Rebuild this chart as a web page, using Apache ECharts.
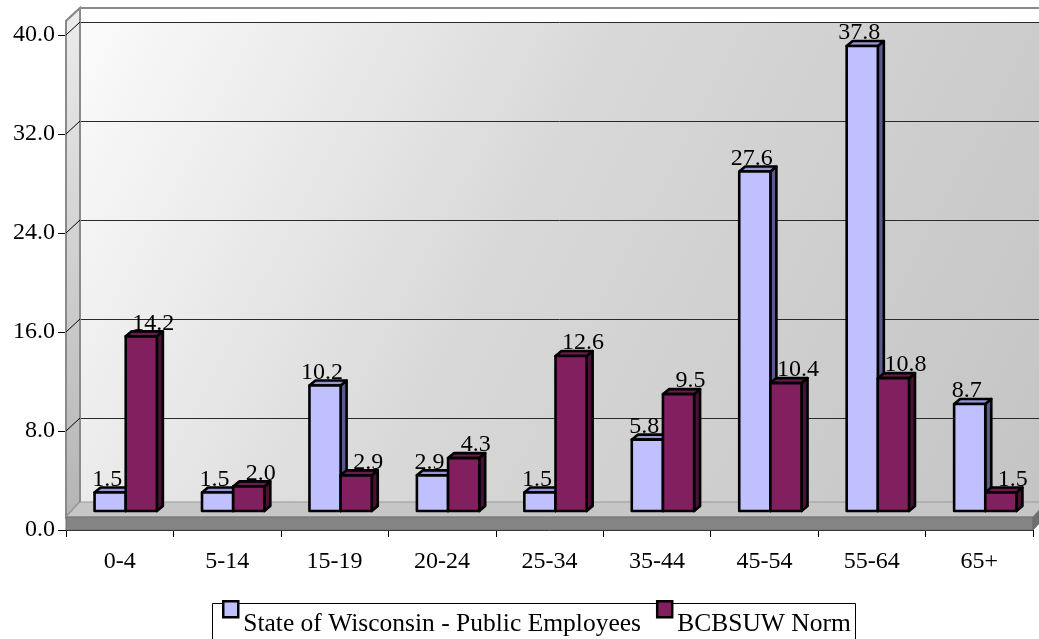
<!DOCTYPE html>
<html>
<head>
<meta charset="utf-8">
<script src="https://cdn.jsdelivr.net/npm/echarts@6/dist/echarts.min.js"></script>
<style>
html,body{margin:0;padding:0;background:#fff;}
#chart{width:1039px;height:639px;}
</style>
</head>
<body>
<div id="chart"></div>
<script>
// ---- data ----
const categories = ['0-4', '5-14', '15-19', '20-24', '25-34', '35-44', '45-54', '55-64', '65+'];
const stateValues = [1.5, 1.5, 10.2, 2.9, 1.5, 5.8, 27.6, 37.8, 8.7];
const normValues = [14.2, 2.0, 2.9, 4.3, 12.6, 9.5, 10.4, 10.8, 1.5];
const seriesNames = ['State of Wisconsin - Public Employees', 'BCBSUW Norm'];
const yTicks = [0, 8, 16, 24, 32, 40];

// ---- styles ----
const FONT = 'Liberation Serif';
const FS = 24;
const LFS = 25.5;
const faces = [
  { front: '#C0C0FF', top: '#9696D6', side: '#5A5A8E', labelDx: -3 },
  { front: '#82205F', top: '#6A1A4E', side: '#4A1036', labelDx: 12 }
];
const DX = 6, DY = -5;

function makeRender(sIdx) {
  return function (params, api) {
    const i = api.value(0), v = api.value(1);
    const base = api.coord([i, 0]);
    const top = api.coord([i, v]);
    const bw = api.size([1, 0])[0] * 0.29;
    const x0 = base[0] + (sIdx === 0 ? -bw : 0);
    const x1 = x0 + bw;
    const yt = top[1], yb = base[1];
    const f = faces[sIdx];
    const st = { stroke: '#000', lineWidth: 2.6, lineJoin: 'round' };
    return {
      type: 'group',
      children: [
        { type: 'polygon', shape: { points: [[x1, yt], [x1 + DX, yt + DY], [x1 + DX, yb + DY], [x1, yb]] },
          style: Object.assign({ fill: f.side }, st) },
        { type: 'polygon', shape: { points: [[x0, yt], [x0 + DX, yt + DY], [x1 + DX, yt + DY], [x1, yt]] },
          style: Object.assign({ fill: f.top }, st) },
        { type: 'rect', shape: { x: x0, y: yt, width: bw, height: yb - yt },
          style: Object.assign({ fill: f.front }, st) },
        { type: 'text', x: (x0 + x1) / 2 + f.labelDx, y: yt - 13,
          style: { text: v.toFixed(1), fill: '#000', font: FS + 'px "' + FONT + '"',
                   align: 'center', verticalAlign: 'middle' } }
      ]
    };
  };
}

const chart = echarts.init(document.getElementById('chart'), null, { renderer: 'canvas' });

const option = {
  animation: false,
  backgroundColor: '#fff',
  textStyle: { fontFamily: FONT },
  grid: [
    { left: 66, top: 35, width: 967, height: 495 },          // front axes
    { left: 72, top: 19, width: 967, height: 492 },          // bars
    { left: 80, top: 22, width: 975, height: 495, show: true, borderWidth: 0,
      backgroundColor: new echarts.graphic.LinearGradient(0, 0, 1, 1, [
        { offset: 0, color: '#fbfbfb' }, { offset: 0.45, color: '#d8d8d8' }, { offset: 1, color: '#c4c4c4' }]) }
  ],
  xAxis: [
    { gridIndex: 0, type: 'category', data: categories, boundaryGap: true,
      axisLine: { show: true, lineStyle: { color: '#000', width: 1 } },
      axisTick: { show: true, length: 7, interval: 0, lineStyle: { color: '#000' } },
      axisLabel: { interval: 0, color: '#000', fontSize: FS, fontFamily: FONT, margin: 20 } },
    { gridIndex: 1, type: 'category', data: categories, show: false },
    { gridIndex: 2, type: 'category', data: categories, show: false }
  ],
  yAxis: [
    { gridIndex: 0, type: 'value', min: 0, max: 40, interval: 8,
      axisLine: { show: true, lineStyle: { color: '#333', width: 1 } },
      axisTick: { show: true, length: 8, lineStyle: { color: '#000' } },
      axisLabel: { color: '#000', fontSize: FS, fontFamily: FONT, margin: 11,
                   formatter: v => v.toFixed(1) },
      splitLine: { show: false } },
    { gridIndex: 1, type: 'value', min: 0, max: 40, interval: 8, show: false, splitLine: { show: false } },
    { gridIndex: 2, type: 'value', min: 0, max: 40, interval: 8,
      axisLine: { show: false }, axisTick: { show: false }, axisLabel: { show: false },
      splitLine: { show: true, lineStyle: { color: '#2a2a2a', width: 1 } } }
  ],
  legend: {
    left: 222, top: 600, padding: 0, itemWidth: 15, itemHeight: 16, itemGap: 15,
    icon: 'rect', selectedMode: false,
    itemStyle: { borderColor: '#000', borderWidth: 2.5 },
    formatter: n => '{t|' + n + '}',
    textStyle: { fontFamily: FONT, fontSize: LFS, color: '#000',
                 rich: { t: { fontFamily: FONT, fontSize: LFS, color: '#000', padding: [30, 0, 0, 0] } } },
    data: seriesNames
  },
  series: [
    { name: seriesNames[0], type: 'custom', xAxisIndex: 1, yAxisIndex: 1, z: 5,
      itemStyle: { color: faces[0].front },
      data: stateValues.map((v, i) => [i, v]), renderItem: makeRender(0) },
    { name: seriesNames[1], type: 'custom', xAxisIndex: 1, yAxisIndex: 1, z: 5,
      itemStyle: { color: faces[1].front },
      data: normValues.map((v, i) => [i, v]), renderItem: makeRender(1) }
  ]
};
chart.setOption(option);

// ---- decorative 3D walls / floor ----
const fl = 66, bl = 80, fr = 1033, br = 1047;
const floorBack = 502, floorFront = 517, axisY = 530;
const graphics = [];
graphics.push({ type: 'rect', z: 1, shape: { x: bl, y: 8, width: 1000, height: 14 }, style: { fill: '#fff' } });
graphics.push({ type: 'polyline', z: 1, shape: { points: [[fl, 21], [bl, 8], [1039, 8]] },
  style: { stroke: '#8a8a8a', lineWidth: 2, fill: null } });
graphics.push({ type: 'polygon', z: 1, shape: { points: [[fl, 21], [bl, 8], [bl, floorBack], [fl, floorFront]] },
  style: { fill: new echarts.graphic.LinearGradient(0, 0, 0, 1, [{ offset: 0, color: '#ececec' }, { offset: 1, color: '#b4b4b4' }]),
           stroke: '#8a8a8a', lineWidth: 2 } });
yTicks.forEach(v => {
  const yf = chart.convertToPixel({ yAxisIndex: 0 }, v);
  const yb = chart.convertToPixel({ yAxisIndex: 2 }, v);
  if (v > 0) graphics.push({ type: 'line', z: 1, shape: { x1: fl, y1: yf, x2: bl, y2: yb }, style: { stroke: '#000', lineWidth: 1 } });
});
graphics.push({ type: 'polygon', z: 1, shape: { points: [[fl, floorFront], [bl, floorBack], [br, floorBack], [fr, floorFront]] },
  style: { fill: '#c6c6c6', stroke: '#9a9a9a', lineWidth: 1 } });
graphics.push({ type: 'polygon', z: 1, shape: { points: [[fl, floorFront], [fr, floorFront], [fr, axisY], [fl, axisY]] },
  style: { fill: '#848484', stroke: '#707070', lineWidth: 1 } });
graphics.push({ type: 'polygon', z: 1, shape: { points: [[fr, floorFront], [br, floorBack], [br, floorBack + 13], [fr, axisY]] },
  style: { fill: '#6e6e6e', stroke: '#6e6e6e', lineWidth: 1 } });
// legend box
graphics.push({ type: 'rect', z: 1, shape: { x: 212.5, y: 603.5, width: 643, height: 60 },
  style: { fill: '#fff', stroke: '#000', lineWidth: 1 } });
chart.setOption({ graphic: graphics });
</script>
</body>
</html>
